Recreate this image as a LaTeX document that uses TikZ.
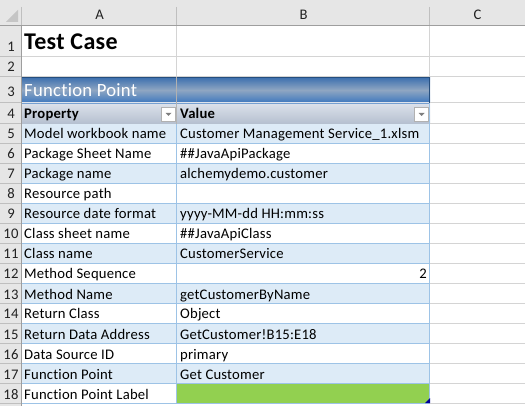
\documentclass[tikz,border=0pt]{standalone}
\usepackage{fontspec}
\setmainfont{Carlito}[Ligatures={NoCommon},LetterSpace=1.4]
\definecolor{hdrbg}{HTML}{E6E6E6}
\definecolor{hdrsep}{HTML}{BFBFBF}
\definecolor{hdrdark}{HTML}{9E9E9E}
\definecolor{grid}{HTML}{D4D4D4}
\definecolor{stripe}{HTML}{DDEBF7}
\definecolor{tblline}{HTML}{9DC3E6}
\definecolor{bandtop}{HTML}{3A6EAE}
\definecolor{bandmid}{HTML}{8FA6C2}
\definecolor{bandbot}{HTML}{3C77BE}
\definecolor{banddark}{HTML}{254E7E}
\definecolor{headtop}{HTML}{DDE2EB}
\definecolor{headbot}{HTML}{B4BFCF}
\definecolor{greencell}{HTML}{92D050}
\definecolor{numtext}{HTML}{222222}
\begin{document}
\begin{tikzpicture}[x=1pt,y=-1pt,
  celltext/.style={inner sep=0pt,anchor=base west,font=\fontsize{14.67}{17}\selectfont},
  celltextr/.style={inner sep=0pt,anchor=base east,font=\fontsize{14.67}{17}\selectfont},
  headtext/.style={inner sep=0pt,anchor=base west,font=\fontsize{14.67}{17}\selectfont\bfseries},
  rownum/.style={inner sep=0pt,anchor=base,text=numtext,font=\fontsize{14.67}{17}\selectfont},
  colletter/.style={inner sep=0pt,anchor=base,text=numtext,font=\fontsize{14.67}{17}\selectfont},
  gridline/.style={draw=grid,line width=1pt},
  tblrule/.style={draw=tblline,line width=1pt},
  hdrrule/.style={draw=hdrsep,line width=1pt},
  filterbtn/.style={draw=hdrdark!80,fill=white,line width=1pt,minimum width=14pt,minimum height=14pt,inner sep=0pt}
]
\useasboundingbox (0,0) rectangle (525,406);
\fill[white] (0,0) rectangle (525,406);
% headers
\fill[hdrbg] (0,0) rectangle (525,26);
\fill[hdrbg] (0,26) rectangle (22,406);
\fill[hdrdark!60] (6,22) -- (18,22) -- (18,10) -- cycle;
% row 3 band
\shade[top color=bandtop,bottom color=bandbot,middle color=bandmid] (22,77) rectangle (430,103);
\draw[banddark,line width=1pt] (22,77.5) -- (430,77.5);
% row 4 header
\shade[top color=headtop,bottom color=headbot] (22,103) rectangle (430,124);
\draw[draw=bandbot!70,line width=1pt] (22,103.5) -- (430,103.5);
% stripes
\foreach \r in {5,7,9,11,13,15,17}{
  \fill[stripe] (22,{124+20*(\r-5)}) rectangle (430,{144+20*(\r-5)});
}
\fill[greencell] (177,384) rectangle (430,404);
% gridlines
\foreach \yy in {57,77,103,124,144,164,184,204,224,244,264,284,304,324,344,364,384,404}{
  \draw[gridline] (430,\yy-0.5) -- (525,\yy-0.5);
}
\draw[gridline] (22,56.5) -- (430,56.5);
\draw[gridline] (22,76.5) -- (430,76.5);
\draw[gridline] (22,403.5) -- (525,403.5);
\draw[gridline] (176.5,26) -- (176.5,77);
\draw[draw=hdrdark!80,line width=1pt] (176.5,77) -- (176.5,103);
\draw[draw=grid!85!black,line width=1pt] (176.5,103) -- (176.5,124);
\draw[gridline] (429.5,26) -- (429.5,77);
% table rules
\foreach \yy in {144,164,184,204,224,244,264,284,304,324,344,364,384,404}{
  \draw[tblrule] (22,\yy-0.5) -- (430,\yy-0.5);
}
\draw[tblrule] (176.5,124) -- (176.5,404);
\draw[tblrule] (429.5,103) -- (429.5,404);
\draw[banddark,line width=1pt] (429.5,77) -- (429.5,103);
\fill[blue!60!black] (425,403) -- (430,403) -- (430,398) -- cycle;
% header separators
\draw[hdrrule] (21.5,7) -- (21.5,26);
\draw[hdrrule] (176.5,7) -- (176.5,26);
\draw[hdrrule] (429.5,7) -- (429.5,26);
\draw[draw=hdrdark,line width=1pt] (0,25.5) -- (525,25.5);
\foreach \yy in {57,77,103,124,144,164,184,204,224,244,264,284,304,324,344,364,384,404}{
  \draw[hdrrule] (0,\yy-0.5) -- (22,\yy-0.5);
}
\draw[draw=hdrdark,line width=1pt] (21.5,26) -- (21.5,406);
% column letters
\node[colletter] (colA) at (99.5,20) {A};
\node[colletter] (colB) at (303.5,20) {B};
\node[colletter] (colC) at (477.5,20) {C};
% row numbers
\node[rownum] (rn1) at (11,52) {1};
\node[rownum] (rn2) at (11,72) {2};
\node[rownum] (rn3) at (11,97) {3};
\node[rownum] (rn4) at (11,118.5) {4};
\foreach \r in {5,...,18}{
  \node[rownum] (rn\r) at (11,{139+20*(\r-5)}) {\r};
}
% title rows
\node[inner sep=0pt,anchor=base west,font=\fontsize{24}{28}\selectfont\bfseries] (title) at (24,50) {Test Case};
\node[inner sep=0pt,anchor=base west,text=white,font=\fontsize{18.67}{22}\selectfont] (fp) at (24,96.5) {Function Point};
\node[headtext] (hprop) at (24,118.5) {Property};
\node[headtext] (hval) at (180,118.5) {Value};
\node[filterbtn] (btnA) at (168.5,114.5) {};
\node[filterbtn] (btnB) at (421.5,114.5) {};
\fill[hdrdark!80!black] (165.5,113) -- (171.5,113) -- (168.5,116) -- cycle;
\fill[hdrdark!80!black] (418.5,113) -- (424.5,113) -- (421.5,116) -- cycle;
% body
\node[celltext] (a5) at (24,139) {Model workbook name};
\node[celltext] (b5) at (180,139) {Customer Management Service\_1.xlsm};
\node[celltext] (a6) at (24,159) {Package Sheet Name};
\node[celltext] (b6) at (180,159) {\#\#JavaApiPackage};
\node[celltext] (a7) at (24,179) {Package name};
\node[celltext] (b7) at (180,179) {alchemydemo.customer};
\node[celltext] (a8) at (24,199) {Resource path};
\node[celltext] (a9) at (24,219) {Resource date format};
\node[celltext] (b9) at (180,219) {yyyy-MM-dd HH:mm:ss};
\node[celltext] (a10) at (24,239) {Class sheet name};
\node[celltext] (b10) at (180,239) {\#\#JavaApiClass};
\node[celltext] (a11) at (24,259) {Class name};
\node[celltext] (b11) at (180,259) {CustomerService};
\node[celltext] (a12) at (24,279) {Method Sequence};
\node[celltextr] (b12) at (427,279) {2};
\node[celltext] (a13) at (24,299) {Method Name};
\node[celltext] (b13) at (180,299) {getCustomerByName};
\node[celltext] (a14) at (24,319) {Return Class};
\node[celltext] (b14) at (180,319) {Object};
\node[celltext] (a15) at (24,339) {Return Data Address};
\node[celltext] (b15) at (180,339) {GetCustomer!B15:E18};
\node[celltext] (a16) at (24,359) {Data Source ID};
\node[celltext] (b16) at (180,359) {primary};
\node[celltext] (a17) at (24,379) {Function Point};
\node[celltext] (b17) at (180,379) {Get Customer};
\node[celltext] (a18) at (24,399) {Function Point Label};
\end{tikzpicture}
\end{document}
